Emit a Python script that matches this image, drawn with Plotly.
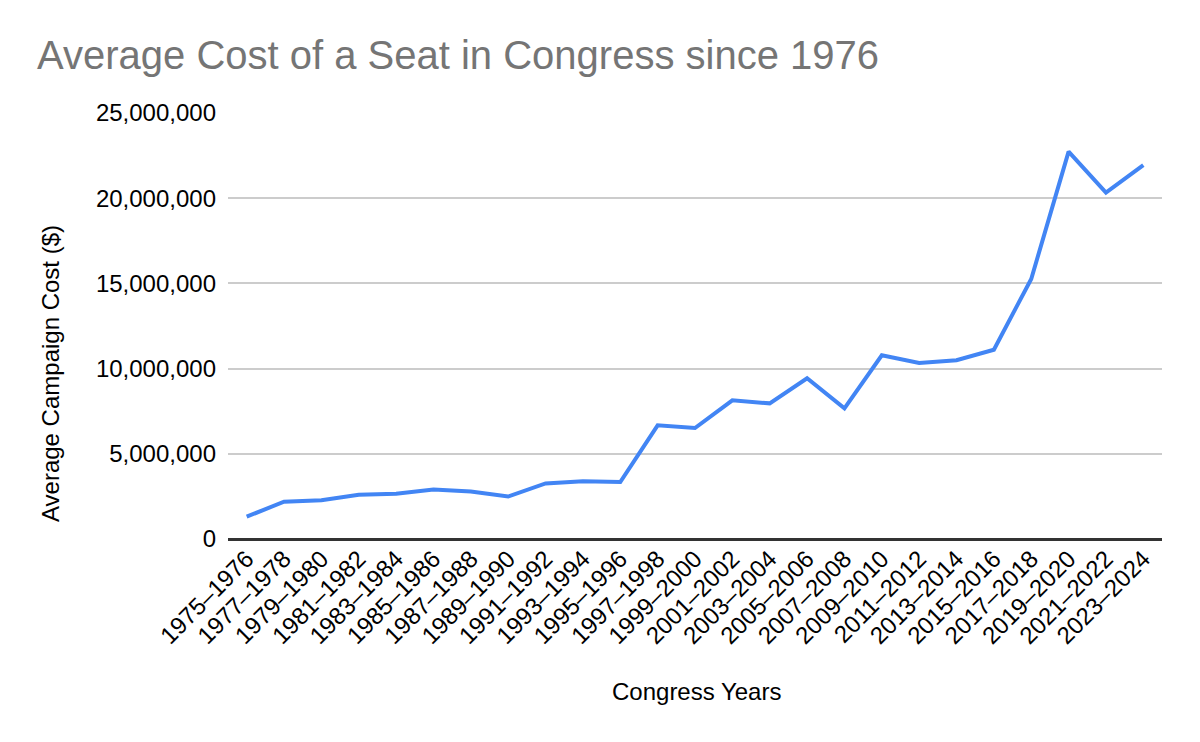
import plotly.graph_objects as go

categories = ["1975–1976", "1977–1978", "1979–1980", "1981–1982", "1983–1984",
              "1985–1986", "1987–1988", "1989–1990", "1991–1992", "1993–1994",
              "1995–1996", "1997–1998", "1999–2000", "2001–2002", "2003–2004",
              "2005–2006", "2007–2008", "2009–2010", "2011–2012", "2013–2014",
              "2015–2016", "2017–2018", "2019–2020", "2021–2022", "2023–2024"]

avg_cost = [1310000, 2190000, 2280000, 2590000, 2660000,
            2900000, 2790000, 2490000, 3260000, 3390000,
            3340000, 6670000, 6510000, 8140000, 7960000,
            9430000, 7670000, 10780000, 10330000, 10490000,
            11110000, 15260000, 22730000, 20330000, 21940000]

y_ticks = [0, 5000000, 10000000, 15000000, 20000000, 25000000]
y_tick_labels = ["0", "5,000,000", "10,000,000", "15,000,000", "20,000,000", "25,000,000"]

FONT = "Liberation Sans, Arial, sans-serif"

# page has 8px body margin; figure sized to fit the window
W, H = 1192, 734
OFF = 8
pl, pt = 228 - OFF, 113 - OFF
pr, pb = W - (1162 - OFF), H - (539 - OFF)
pw, ph = W - pl - pr, H - pt - pb

fig = go.Figure()
fig.add_trace(go.Scatter(
    x=categories, y=avg_cost, mode="lines",
    line=dict(color="#4285F4", width=4),
    showlegend=False,
))

fig.update_layout(
    width=W, height=H,
    paper_bgcolor="white", plot_bgcolor="white",
    margin=dict(l=pl, r=pr, t=pt, b=pb),
    font=dict(family=FONT, size=24, color="#000000"),
    title=dict(text="Average Cost of a Seat in Congress since 1976",
               font=dict(family=FONT, size=40, color="#757575"),
               x=(37 - OFF) / W, xanchor="left", xref="container",
               y=1 - (55 - OFF) / H, yanchor="middle", yref="container"),
    xaxis=dict(
        type="category", range=[-0.5, len(categories) - 0.5],
        tickangle=-45, showgrid=False, showline=False, ticks="",
        tickfont=dict(family=FONT, size=24, color="#000000"),
        zeroline=False,
    ),
    yaxis=dict(
        range=[0, 25000000], tickvals=y_ticks, ticktext=y_tick_labels,
        showgrid=True, gridcolor="#cccccc", gridwidth=1.5,
        zeroline=True, zerolinecolor="#333333", zerolinewidth=2.5,
        showline=False, ticks="", ticklabelstandoff=11,
        tickfont=dict(family=FONT, size=24, color="#000000"),
    ),
    annotations=[
        dict(text="Average Campaign Cost ($)", textangle=-90,
             x=(50 - OFF - pl) / pw, y=(H - (374 - OFF) - pb) / ph,
             xref="paper", yref="paper",
             showarrow=False, font=dict(family=FONT, size=24, color="#000000"),
             xanchor="center", yanchor="middle"),
        dict(text="Congress Years",
             x=(696 - OFF - pl) / pw, y=(H - (691 - OFF) - pb) / ph,
             xref="paper", yref="paper",
             showarrow=False, font=dict(family=FONT, size=24, color="#000000"),
             xanchor="center", yanchor="middle"),
    ],
)

fig.write_html("out.html")
